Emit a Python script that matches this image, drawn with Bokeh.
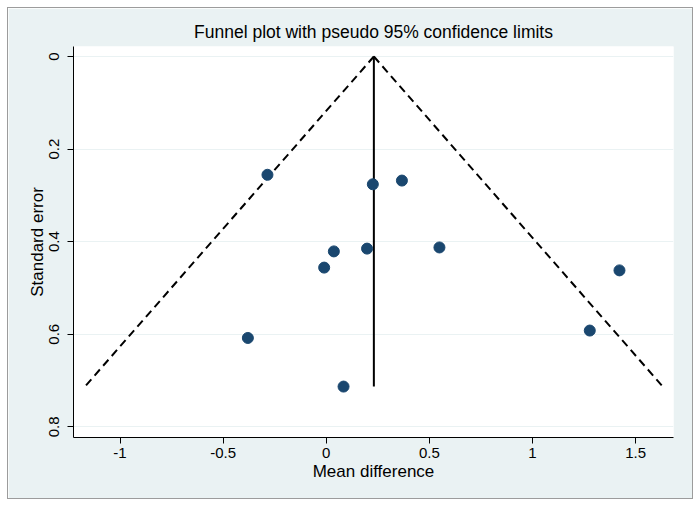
from bokeh.plotting import figure
from bokeh.models import Range1d, FixedTicker, Title, Spacer
from bokeh.layouts import column, row
from bokeh.embed import file_html
from bokeh.resources import INLINE

# Study estimates (mean difference, standard error)
mean_diff = [-0.285, 0.226, 0.367, 0.037, -0.010, 0.198, 0.549, -0.380, 0.084, 1.422, 1.278]
std_err = [0.2555, 0.276, 0.268, 0.421, 0.456, 0.415, 0.4125, 0.608, 0.713, 0.462, 0.592]

# Pooled estimate and pseudo 95% confidence limits
pooled = 0.231
se_max = 0.713
lower_limit = -1.170
upper_limit = 1.632

funnel_left_x = [pooled, lower_limit]
funnel_right_x = [pooled, upper_limit]
funnel_se = [0.0, se_max]

x_ticks = [-1, -0.5, 0, 0.5, 1, 1.5]
x_tick_labels = {-1: "-1", -0.5: "-0.5", 0: "0", 0.5: "0.5", 1: "1", 1.5: "1.5"}
y_ticks = [0, 0.2, 0.4, 0.6, 0.8]
y_tick_labels = {0: "0", 0.2: "0.2", 0.4: "0.4", 0.6: "0.6", 0.8: "0.8"}

FONT = "Liberation Sans"
BG = "#EAF2F3"

p = figure(width=684, height=490, output_backend="svg", toolbar_location=None,
           x_range=Range1d(-1.2255, 1.684), y_range=Range1d(0.823, -0.0216),
           min_border_left=65, min_border_right=19, min_border_top=38, min_border_bottom=61,
           styles={"outline": "1px solid #9c9c9c", "outline-offset": "0px"})

p.title = Title(text="Funnel plot with pseudo 95% confidence limits", align="center",
                text_font=FONT, text_font_size="17.5px", text_font_style="normal",
                text_color="#000000")

p.border_fill_color = BG
p.background_fill_color = "white"
p.outline_line_color = None

# grid
p.xgrid.visible = False
p.ygrid.ticker = FixedTicker(ticks=y_ticks)
p.ygrid.grid_line_color = BG
p.ygrid.grid_line_width = 1.2

# axes
for ax in (p.xaxis[0], p.yaxis[0]):
    ax.axis_line_color = "#000000"
    ax.axis_line_width = 1
    ax.major_tick_line_color = "#000000"
    ax.major_tick_out = 6
    ax.major_tick_in = 0
    ax.minor_tick_line_color = None
    ax.major_label_text_font = FONT
    ax.major_label_text_font_size = "15px"
    ax.major_label_text_color = "#000000"
    ax.axis_label_text_font = FONT
    ax.axis_label_text_font_size = "17px"
    ax.axis_label_text_font_style = "normal"
    ax.axis_label_text_color = "#000000"

p.xaxis.ticker = FixedTicker(ticks=x_ticks)
p.xaxis.major_label_overrides = x_tick_labels
p.xaxis.axis_label = "Mean difference"
p.xaxis.major_label_standoff = 4
p.xaxis.axis_label_standoff = 1

p.yaxis.ticker = FixedTicker(ticks=y_ticks)
p.yaxis.major_label_overrides = y_tick_labels
p.yaxis.major_label_orientation = "vertical"
p.yaxis.axis_label = "Standard error"
p.yaxis.major_label_standoff = 8
p.yaxis.axis_label_standoff = 0

# funnel
p.line(funnel_left_x, funnel_se, line_color="black", line_width=2, line_dash="8 5")
p.line(funnel_right_x, funnel_se, line_color="black", line_width=2, line_dash="8 5")
p.line([pooled, pooled], funnel_se, line_color="black", line_width=2)

# studies
p.scatter(mean_diff, std_err, size=11, fill_color="#1A476F", line_color="#1A476F")

layout = column(Spacer(height=8), row(Spacer(width=8), p))

open("out.html", "w").write(file_html(layout, INLINE))
